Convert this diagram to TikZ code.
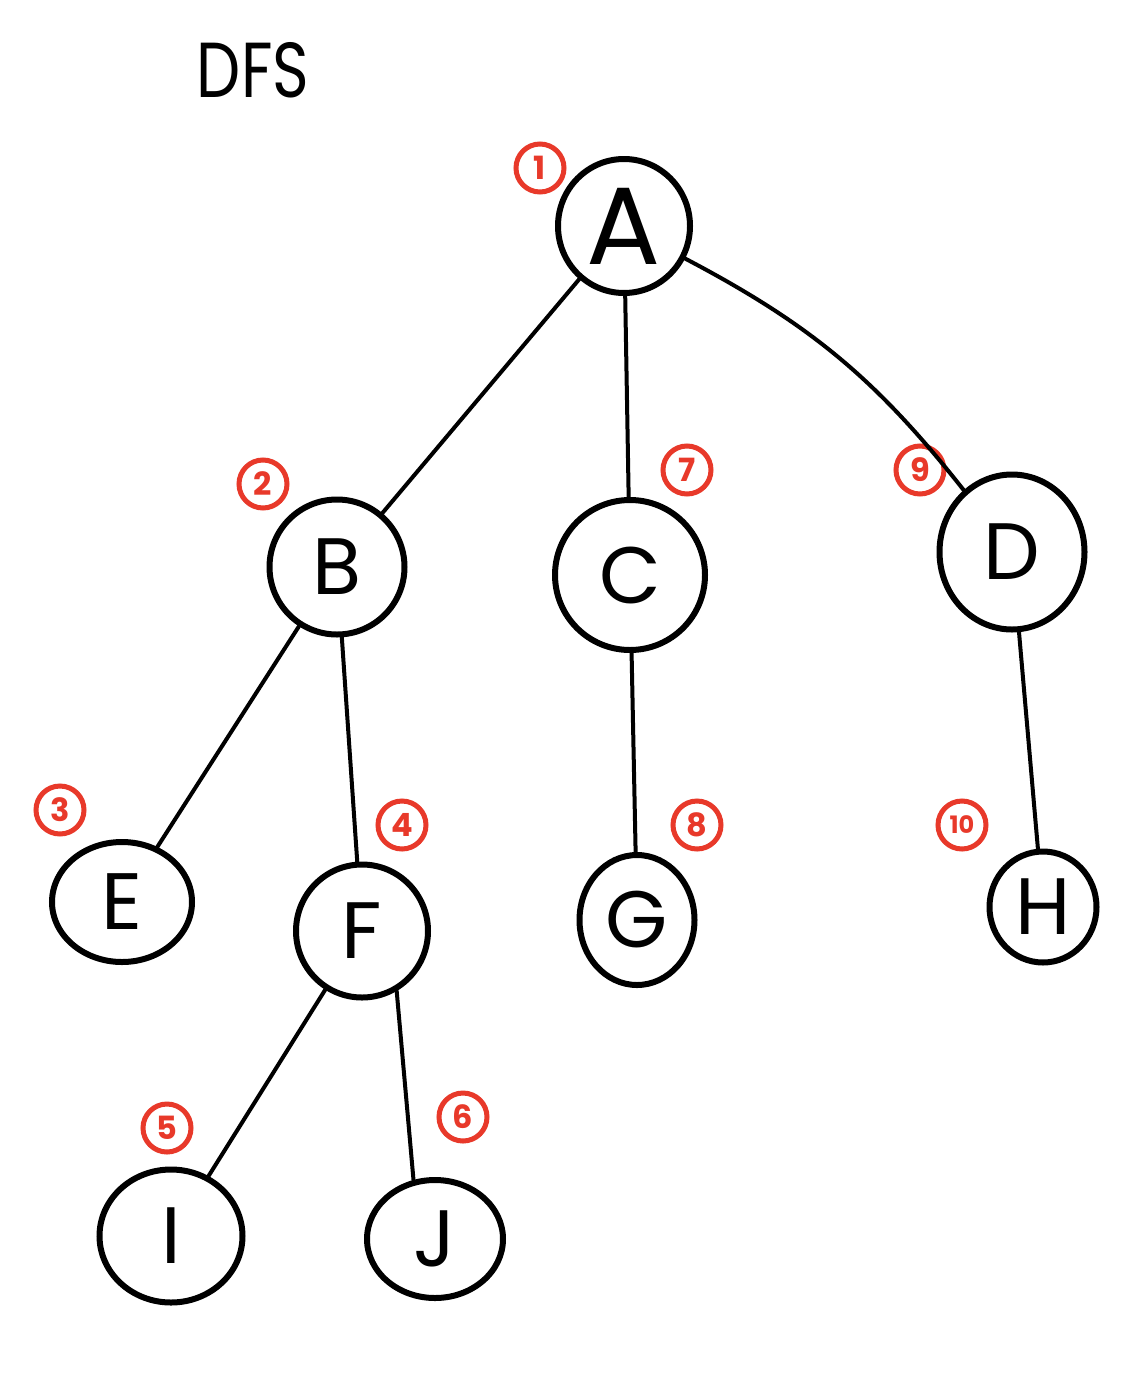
\documentclass[tikz,border=0pt]{standalone}
\usepackage{fontspec}
\setmainfont{Poppins}
\usetikzlibrary{shapes.geometric}
\definecolor{numred}{HTML}{E8392A}
\begin{document}
\begin{tikzpicture}[x=1pt,y=-1pt,
  vert/.style={ellipse,draw=black,line width=6pt,inner sep=0pt,
    font=\fontsize{80}{80}\selectfont},
  order/.style={circle,draw=numred,line width=5pt,inner sep=0pt,minimum size=48pt,
    text=numred,font=\fontsize{32}{32}\selectfont\bfseries},
  edge/.style={draw=black,line width=4pt,line cap=round}]
\useasboundingbox (0,0) rectangle (1136,1390);
\fill[white] (0,0) rectangle (1136,1390);
\node[font=\fontsize{78}{78}\selectfont,xscale=0.8] (title) at (253,70) {DFS};
% vertices
\node[vert,minimum width=132pt,minimum height=134pt,font=\fontsize{110}{110}\selectfont] (A) at (624,226) {A};
\node[vert,minimum width=135pt,minimum height=135pt] (B) at (337,567) {B};
\node[vert,minimum width=150pt,minimum height=150pt] (C) at (630,575) {C};
\node[vert,minimum width=145pt,minimum height=155pt] (D) at (1012,552) {D};
\node[vert,minimum width=140pt,minimum height=120pt] (E) at (122,902) {E};
\node[vert,minimum width=132pt,minimum height=133pt] (F) at (362,931) {F};
\node[vert,minimum width=115pt,minimum height=130pt] (G) at (637,920) {G};
\node[vert,minimum width=107pt,minimum height=111pt] (H) at (1043,907) {H};
\node[vert,minimum width=143pt,minimum height=133pt] (I) at (171,1236) {I};
\node[vert,minimum width=136pt,minimum height=118pt] (J) at (435,1239) {J};
% visiting order
\node[order] (n1) at (540,168) {1};
\node[order] (n2) at (263,484) {2};
\node[order] (n3) at (60,810) {3};
\node[order] (n4) at (402,825) {4};
\node[order] (n5) at (167,1128) {5};
\node[order] (n6) at (463,1117) {6};
\node[order] (n7) at (687,470) {7};
\node[order] (n8) at (697,825) {8};
\node[order] (n9) at (920,470) {9};
\node[order,font=\fontsize{24}{24}\selectfont\bfseries] (n10) at (962,825) {10};
% edges
\draw[edge] (A) -- (B);
\draw[edge] (A) -- (C);
\draw[edge] (A) to[bend left=12] (D);
\draw[edge] (B) -- (E);
\draw[edge] (B) -- (F);
\draw[edge] (C) -- (G);
\draw[edge] (D) -- (H);
\draw[edge] (F) -- (I);
\draw[edge] (F.-60) -- (J.110);
\end{tikzpicture}
\end{document}
